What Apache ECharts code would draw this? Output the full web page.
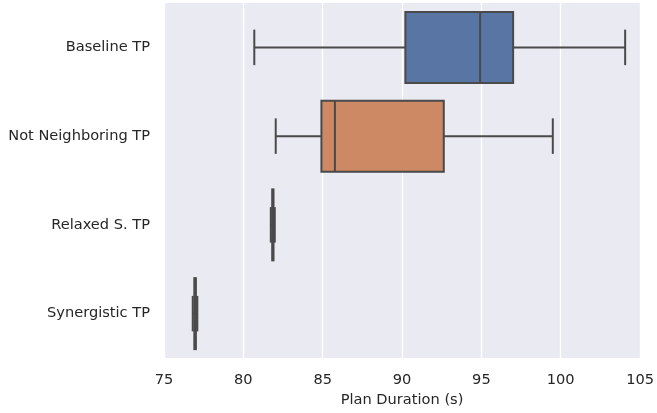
<!DOCTYPE html>
<html>
<head>
<meta charset="utf-8">
<script src="https://cdn.jsdelivr.net/npm/echarts@6/dist/echarts.min.js"></script>
<style>
html,body{margin:0;padding:0;background:#fff;}
#main{width:657px;height:413px;}
</style>
</head>
<body>
<div id="main"></div>
<script>
var categories = ['Baseline TP', 'Not Neighboring TP', 'Relaxed S. TP', 'Synergistic TP'];
// [low whisker, Q1, median, Q3, high whisker]
var boxLow    = [80.69, 82.04, 81.73, 76.81];
var boxQ1     = [90.21, 84.92, 81.82, 76.91];
var boxMedian = [94.92, 85.77, 81.86, 76.96];
var boxQ3     = [97.00, 92.63, 81.90, 77.01];
var boxHigh   = [104.06, 99.50, 81.98, 77.10];
var boxColors = ['#5875a4', '#cc8963', '#5f9e6e', '#b55d60'];
var xTicks = [75, 80, 85, 90, 95, 100, 105];

var data = categories.map(function (c, i) {
  return [i, boxLow[i], boxQ1[i], boxMedian[i], boxQ3[i], boxHigh[i]];
});

var edge = '#4a4a4a';
var chart = echarts.init(document.getElementById('main'), null, {renderer: 'canvas'});
chart.setOption({
  animation: false,
  backgroundColor: '#ffffff',
  grid: {left: 164, right: 14, top: 3, bottom: 55, backgroundColor: '#eaeaf2', show: true, borderWidth: 0},
  xAxis: {
    type: 'value', min: 75, max: 105, interval: 5,
    name: 'Plan Duration (s)', nameLocation: 'middle', nameGap: 33,
    nameTextStyle: {fontFamily: 'DejaVu Sans', fontSize: 14.6, color: '#262626'},
    axisLine: {show: false}, axisTick: {show: false},
    axisLabel: {fontFamily: 'DejaVu Sans', fontSize: 14.6, color: '#262626', margin: 15,
      formatter: function (v) { return xTicks.indexOf(v) >= 0 ? String(v) : ''; }},
    splitLine: {show: true, lineStyle: {color: '#ffffff', width: 1.3}}
  },
  yAxis: {
    type: 'category', data: categories, inverse: true,
    axisLine: {show: false}, axisTick: {show: false},
    axisLabel: {fontFamily: 'DejaVu Sans', fontSize: 14.6, color: '#262626', margin: 14},
    splitLine: {show: false}
  },
  series: [{
    type: 'custom',
    data: data,
    encode: {y: 0, x: [1, 2, 3, 4, 5]},
    renderItem: function (params, api) {
      var i = api.value(0);
      var c = api.coord([api.value(1), i]);
      var yc = c[1];
      var band = api.size([0, 1])[1];
      var hw = band * 0.8 / 2;
      var cw = hw / 2;
      var xl = api.coord([api.value(1), i])[0];
      var x1 = api.coord([api.value(2), i])[0];
      var xm = api.coord([api.value(3), i])[0];
      var x3 = api.coord([api.value(4), i])[0];
      var xh = api.coord([api.value(5), i])[0];
      var ls = {stroke: edge, lineWidth: 2};
      return {
        type: 'group',
        children: [
          {type: 'line', shape: {x1: xl, y1: yc, x2: x1, y2: yc}, style: ls},
          {type: 'line', shape: {x1: x3, y1: yc, x2: xh, y2: yc}, style: ls},
          {type: 'line', shape: {x1: xl, y1: yc - cw, x2: xl, y2: yc + cw}, style: ls},
          {type: 'line', shape: {x1: xh, y1: yc - cw, x2: xh, y2: yc + cw}, style: ls},
          {type: 'rect', shape: {x: x1, y: yc - hw, width: x3 - x1, height: 2 * hw},
            style: {fill: boxColors[i], stroke: edge, lineWidth: 2}},
          {type: 'line', shape: {x1: xm, y1: yc - hw, x2: xm, y2: yc + hw}, style: ls}
        ]
      };
    }
  }]
});
</script>
</body>
</html>
